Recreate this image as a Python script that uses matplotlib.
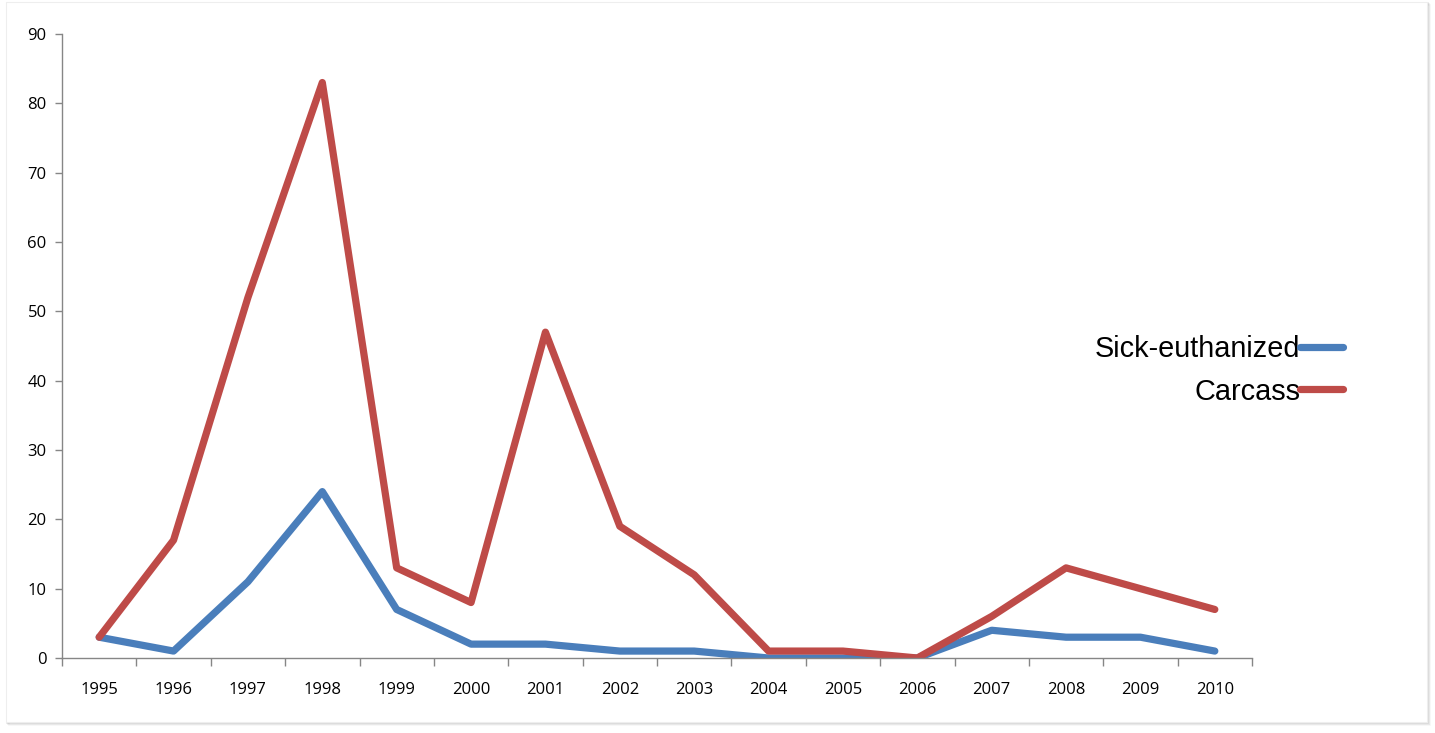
import numpy as np
import matplotlib.pyplot as plt
from matplotlib.patches import Rectangle

years = ['1995', '1996', '1997', '1998', '1999', '2000', '2001', '2002',
         '2003', '2004', '2005', '2006', '2007', '2008', '2009', '2010']
sick_euthanized = [3, 1, 11, 24, 7, 2, 2, 1, 1, 0, 0, 0, 4, 3, 3, 1]
carcass = [3, 17, 52, 83, 13, 8, 47, 19, 12, 1, 1, 0, 6, 13, 10, 7]

plt.rcParams['font.family'] = ['Open Sans', 'DejaVu Sans']

fig = plt.figure(figsize=(14.35, 7.33), dpi=100)

# slide-like frame with a soft shadow, kept behind the axes
for i, a in enumerate([0.10, 0.07, 0.04]):
    fig.patches.append(Rectangle(((6 + i + 1) / 1435, 1 - (722 + i + 1) / 733),
                                 1421 / 1435, 720 / 733, transform=fig.transFigure,
                                 facecolor='none', edgecolor=(0, 0, 0, a), lw=1.2,
                                 zorder=-10))
fig.patches.append(Rectangle((6 / 1435, 1 - 722 / 733), 1421 / 1435, 720 / 733,
                             transform=fig.transFigure, facecolor='white',
                             edgecolor='#eeeeee', lw=0.8, zorder=-9))

ax = fig.add_axes([62 / 1435, 1 - 658 / 733, 1190 / 1435, 624 / 733])
ax.set_facecolor('none')
x = np.arange(len(years))
ax.plot(x, sick_euthanized, color='#4A7EBB', lw=5.2, solid_capstyle='round',
        solid_joinstyle='round', label='Sick-euthanized')
ax.plot(x, carcass, color='#BE4B48', lw=5.2, solid_capstyle='round',
        solid_joinstyle='round', label='Carcass')

ax.set_xlim(-0.5, len(years) - 0.5)
ax.set_ylim(0, 90)
ax.set_yticks(range(0, 91, 10))
ax.set_xticks(np.arange(-0.5, len(years), 1.0))
ax.set_xticklabels([])
ax.set_xticks(x, minor=True)
ax.set_xticklabels(years, minor=True)

for s in ['top', 'right']:
    ax.spines[s].set_visible(False)
for s in ['left', 'bottom']:
    ax.spines[s].set_color('#868686')
    ax.spines[s].set_linewidth(1.0)
ax.tick_params(axis='y', direction='out', length=5, width=1, color='#868686',
               labelsize=12, pad=6)
ax.tick_params(axis='x', which='major', direction='out', length=6, width=1,
               color='#868686')
ax.tick_params(axis='x', which='minor', length=0, labelsize=12, pad=17)

leg = ax.legend(loc='center left', bbox_to_anchor=(0.858, 0.461), frameon=False,
                markerfirst=False, handlelength=1.5, handletextpad=0.0,
                labelspacing=0.5, borderaxespad=0,
                prop={'family': ['Liberation Sans', 'DejaVu Sans'], 'size': 20.8})
for line in leg.get_lines():
    line.set_linewidth(5.2)
    line.set_solid_capstyle('round')

fig.savefig('out.png', dpi=100)
